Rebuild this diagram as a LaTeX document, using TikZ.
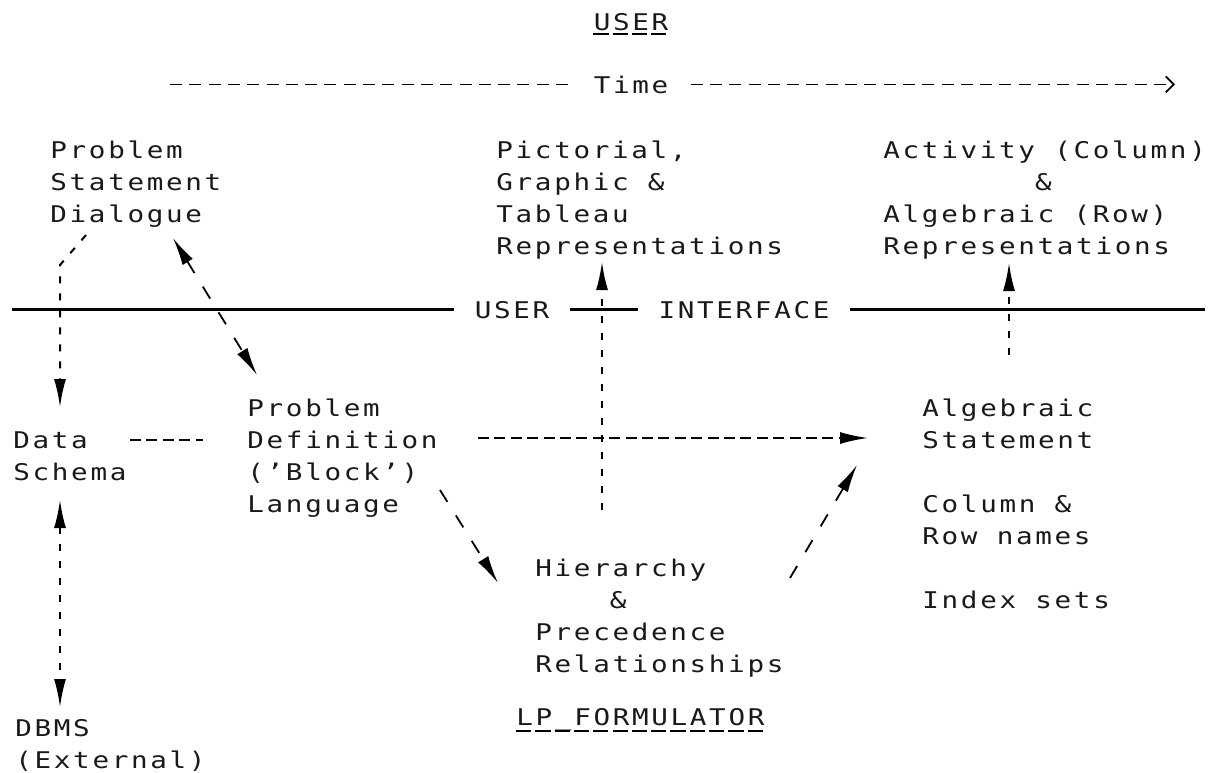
\documentclass[tikz,border=0pt]{standalone}
\usepackage{fontspec}
\newfontfamily\dotfont{DejaVu Sans Mono}[FakeStretch=1.2,LetterSpace=11.6]
\usetikzlibrary{arrows.meta}

\begin{document}
\begin{tikzpicture}[
  x=0.5pt, y=-0.5pt,
  txt/.style={font=\dotfont\fontsize{11.5pt}{16pt}\selectfont, text=black!90, align=left, anchor=base west, inner sep=0pt},
  ctxt/.style={txt, anchor=base},
  iface/.style={ctxt, inner xsep=10pt},
  >={Latex[length=14pt,width=6pt]},
  hdash/.style={line width=1pt, dash pattern=on 5.5pt off 2.7pt},
  vdash/.style={line width=1pt, dash pattern=on 3.5pt off 5pt},
  sdash/.style={line width=0.9pt, dash pattern=on 7pt off 8pt},
  tdash/.style={line width=0.9pt, dash pattern=on 6pt off 3.65pt},
  uline/.style={line width=0.8pt, dash pattern=on 7.6pt off 2.05pt},
  iline/.style={line width=1.4pt}
]
  \useasboundingbox (0,0) rectangle (1214,772);

  % Header
  \node[ctxt] (user) at (631,30) {USER};
  \draw[uline] ([shift={(0,4)}]user.base west) -- ([shift={(0,4)}]user.base east);
  \node[ctxt, inner xsep=11pt] (time) at (631,93) {Time};
  \coordinate (tstart) at (170,0);
  \coordinate (tend) at (1175,0);
  \draw[tdash] (tstart |- time.west) -- (time.west);
  \draw[tdash, -{Straight Barb[length=4pt,width=8pt]}] (time.east) -- (tend |- time.east);

  % User side (nodes sit on the baseline of their last line)
  \node[txt] (psd) at (50,222) {Problem\\Statement\\Dialogue};
  \node[txt] (pgt) at (496,254) {Pictorial,\\Graphic \&\\Tableau\\Representations};
  \node[txt] (acr) at (883,254) {Activity (Column)\\\phantom{Activity}\&\\Algebraic (Row)\\Representations};

  % Interface line
  \node[iface] (iuser) at (512,318) {USER};
  \node[iface] (iint) at (744,318) {INTERFACE};
  \coordinate (ileft) at (12,0);
  \coordinate (iright) at (1205,0);
  \draw[iline] (ileft |- iuser.west) -- (iuser.west);
  \draw[iline] (iuser.east) -- (iint.west);
  \draw[iline] (iint.east) -- (iright |- iint.east);

  % Formulator side
  \node[txt] (dsc) at (13,480) {Data\\Schema};
  \node[txt] (pdl) at (247,512) {Problem\\Definition\\(’Block’)\\Language};
  \node[txt] (alg) at (922,608) {Algebraic\\Statement\\[16pt]Column \&\\Row names\\[16pt]Index sets};
  \node[txt] (hpr) at (535,672) {Hierarchy\\\phantom{Hier}\&\\Precedence\\Relationships};
  \node[txt] (lpf) at (516,725) {LP\_FORMULATOR};
  \draw[uline] ([shift={(0,6)}]lpf.base west) -- ([shift={(0,6)}]lpf.base east);
  \node[txt] (dbms) at (15,768) {DBMS\\(External)};

  % Connectors
  \draw[vdash, ->] ([shift={(36,13)}]psd.base west) -- ([shift={(10,43)}]psd.base west) -- ([shift={(47,-73)}]dsc.base west);
  \draw[sdash, <->] ([shift={(123,16)}]psd.base west) -- ([shift={(10,-137)}]pdl.base west);
  \draw[hdash] ([shift={(117,-40)}]dsc.base west) -- ([shift={(-44,-72)}]pdl.base west);
  \draw[hdash, ->] ([shift={(231,-74)}]pdl.base west) -- ([shift={(-54,-170)}]alg.base west);
  \draw[sdash, ->] ([shift={(193,-22)}]pdl.base west) -- ([shift={(-37,-89)}]hpr.base west);
  \draw[sdash, ->] ([shift={(255,-94)}]hpr.base west) -- ([shift={(-65,-143)}]alg.base west);
  \draw[vdash, <->] ([shift={(47,20)}]dsc.base west) -- ([shift={(45,-61)}]dbms.base west);
  \draw[vdash, ->] ([shift={(67,-162)}]hpr.base west) -- ([shift={(106,8)}]pgt.base west);
  \draw[vdash, ->] ([shift={(87,-253)}]alg.base west) -- ([shift={(126,9)}]acr.base west);
\end{tikzpicture}
\end{document}
